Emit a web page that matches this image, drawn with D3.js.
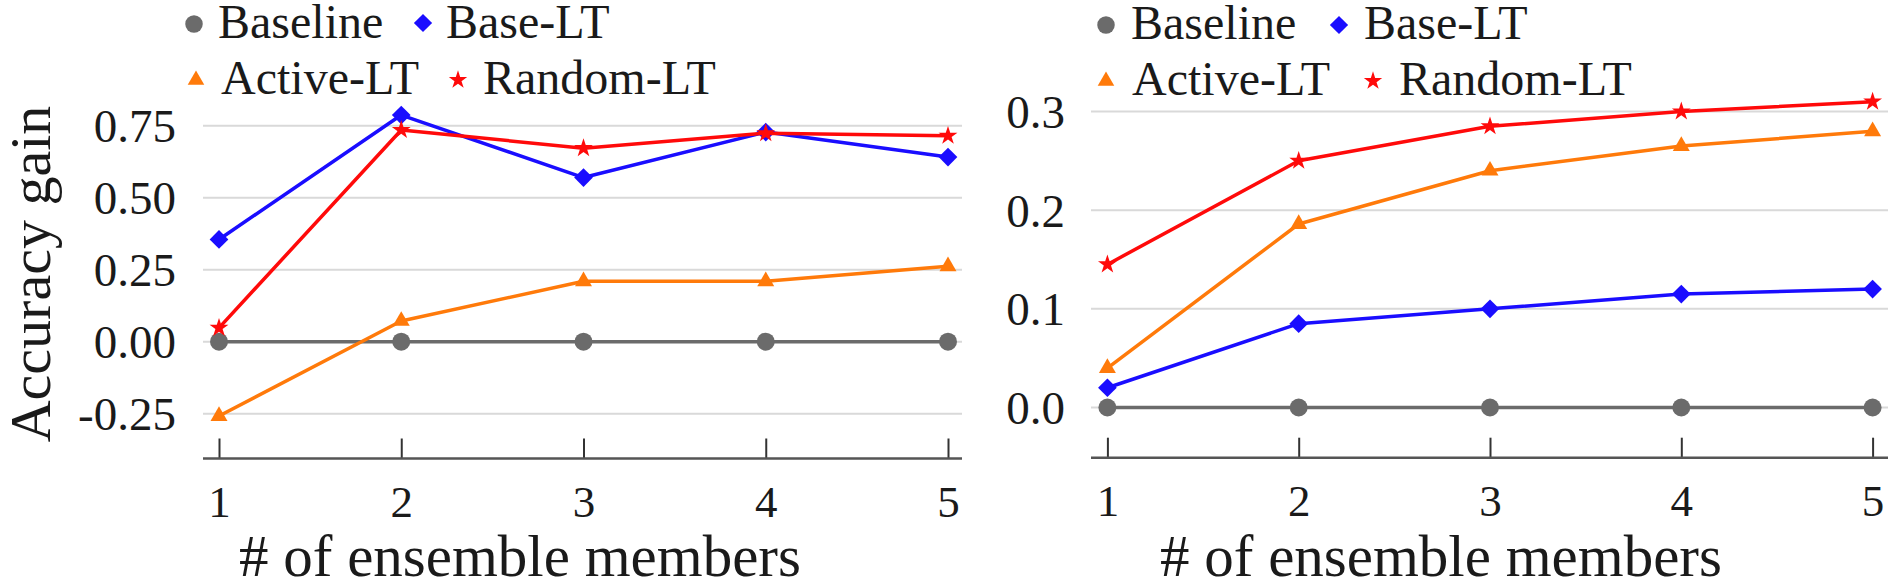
<!DOCTYPE html>
<html>
<head>
<meta charset="utf-8">
<script src="https://cdn.jsdelivr.net/npm/d3@7"></script>
</head>
<body style="margin:0;padding:0;background:#fff">
<svg id="chart" width="1892" height="588" style="display:block"></svg>
<script>
// ---- data ----
const members = [1, 2, 3, 4, 5];
const seriesNames = ["Baseline", "Base-LT", "Active-LT", "Random-LT"];

// left panel
const leftBaseline = [0, 0, 0, 0, 0];
const leftBaseLT   = [0.355, 0.787, 0.570, 0.728, 0.641];
const leftActiveLT = [-0.258, 0.072, 0.210, 0.210, 0.262];
const leftRandomLT = [0.048, 0.735, 0.672, 0.724, 0.715];
const leftYTicks   = [-0.25, 0.00, 0.25, 0.50, 0.75];

// right panel
const rightBaseline = [0, 0, 0, 0, 0];
const rightBaseLT   = [0.020, 0.085, 0.100, 0.115, 0.120];
const rightActiveLT = [0.040, 0.186, 0.240, 0.265, 0.280];
const rightRandomLT = [0.145, 0.250, 0.285, 0.300, 0.310];
const rightYTicks   = [0.0, 0.1, 0.2, 0.3];

const xTitle = "# of ensemble members";
const yTitle = "Accuracy gain";

// ---- styles ----
const TXT = "#1a1a1a";
const colors = { "Baseline": "#6b6b6b", "Base-LT": "#1a0dff", "Active-LT": "#ff7a0a", "Random-LT": "#ff0a0a" };
const symbols = {
  "Baseline": { type: d3.symbolCircle, size: 254, rot: 0 },
  "Base-LT": { type: d3.symbolSquare, size: 175, rot: 45 },
  "Active-LT": { type: d3.symbolTriangle, size: 125, rot: 0 },
  "Random-LT": { type: d3.symbolStar, size: 110, rot: 0 }
};

const svg = d3.select("#chart");

function serif(sel) {
  return sel.style("font-family", "'Times New Roman'").attr("font-family", "Times New Roman");
}

function drawPanel(cfg) {
  const g = svg.append("g");
  const x = d3.scaleLinear().domain([1, 5]).range(cfg.xRange);
  const y = d3.scaleLinear().domain(cfg.yDomain).range(cfg.yRange);

  // gridlines
  g.append("g").selectAll("line").data(cfg.yTicks).join("line")
    .attr("x1", cfg.plotX[0]).attr("x2", cfg.plotX[1])
    .attr("y1", d => y(d)).attr("y2", d => y(d))
    .attr("stroke", "#d9d9d9").attr("stroke-width", 2);

  // y axis labels
  const yAxis = d3.axisLeft(y).tickValues(cfg.yTicks).tickSize(0).tickPadding(0)
    .tickFormat(d => d3.format(cfg.yFmt)(d).replace("\u2212", "-"));
  const ya = g.append("g").attr("transform", `translate(${cfg.yLabelX},0)`).call(yAxis);
  serif(ya);
  ya.select(".domain").remove();
  serif(ya.selectAll("text").attr("font-size", 47).attr("dy", "0.34em").attr("fill", TXT));

  // x axis
  const xAxis = d3.axisBottom(x).tickValues(members).tickSizeInner(-20).tickSizeOuter(0).tickPadding(0).tickFormat(d3.format("d"));
  const xa = g.append("g").attr("transform", `translate(0,${cfg.axisY})`).call(xAxis);
  serif(xa);
  xa.select(".domain").remove();
  xa.append("line").attr("x1", cfg.plotX[0]).attr("x2", cfg.plotX[1]).attr("y1", 0).attr("y2", 0)
    .attr("stroke", "#555").attr("stroke-width", 2.5);
  xa.selectAll(".tick line").attr("stroke", "#333").attr("stroke-width", 2);
  serif(xa.selectAll("text").attr("font-size", 45).attr("y", 58.5).attr("dy", 0).attr("fill", TXT));

  // x title
  serif(g.append("text").attr("x", cfg.xTitleX).attr("y", 576).attr("text-anchor", "middle")
    .attr("font-size", 59).attr("fill", TXT).text(xTitle));

  // series
  const line = d3.line().x((d, i) => x(members[i])).y(d => y(d));
  cfg.series.forEach(s => {
    const sg = g.append("g");
    sg.append("path").datum(s.values).attr("d", line).attr("fill", "none")
      .attr("stroke", colors[s.name]).attr("stroke-width", 3.5).attr("stroke-linejoin", "round");
    const sym = symbols[s.name];
    sg.selectAll("path.m").data(s.values).join("path").attr("class", "m")
      .attr("d", d3.symbol().type(sym.type).size(sym.size))
      .attr("transform", (d, i) => `translate(${x(members[i])},${y(d)}) rotate(${sym.rot})`)
      .attr("fill", colors[s.name]);
  });

  // legend
  const lg = g.append("g");
  cfg.legend.forEach(l => {
    const sym = symbols[l.name];
    lg.append("path").attr("d", d3.symbol().type(sym.type).size(sym.size * 0.95))
      .attr("transform", `translate(${l.mx},${l.my}) rotate(${sym.rot})`)
      .attr("fill", colors[l.name]);
    serif(lg.append("text").attr("x", l.tx).attr("y", l.ty)
      .attr("font-size", 48).attr("fill", TXT).text(l.name));
  });

  return g;
}

drawPanel({
  xRange: [219, 948], plotX: [203, 962],
  yDomain: [-0.25, 0.75], yRange: [413.7, 125.7],
  yTicks: leftYTicks, yFmt: ".2f", yLabelX: 176, axisY: 458.5, xTitleX: 520,
  series: [
    { name: "Baseline", values: leftBaseline },
    { name: "Base-LT", values: leftBaseLT },
    { name: "Active-LT", values: leftActiveLT },
    { name: "Random-LT", values: leftRandomLT }
  ],
  legend: [
    { name: "Baseline", mx: 194, my: 24, tx: 218, ty: 38 },
    { name: "Base-LT", mx: 423, my: 23, tx: 446, ty: 38 },
    { name: "Active-LT", mx: 196, my: 80, tx: 221, ty: 94 },
    { name: "Random-LT", mx: 458, my: 80, tx: 483, ty: 94 }
  ]
});

drawPanel({
  xRange: [1107.4, 1872.6], plotX: [1091, 1888],
  yDomain: [0, 0.3], yRange: [407.5, 111.5],
  yTicks: rightYTicks, yFmt: ".1f", yLabelX: 1065, axisY: 457.7, xTitleX: 1441,
  series: [
    { name: "Baseline", values: rightBaseline },
    { name: "Base-LT", values: rightBaseLT },
    { name: "Active-LT", values: rightActiveLT },
    { name: "Random-LT", values: rightRandomLT }
  ],
  legend: [
    { name: "Baseline", mx: 1106, my: 25, tx: 1131, ty: 39 },
    { name: "Base-LT", mx: 1339, my: 25, tx: 1364, ty: 39 },
    { name: "Active-LT", mx: 1106, my: 81, tx: 1132, ty: 95 },
    { name: "Random-LT", mx: 1373, my: 81, tx: 1399, ty: 95 }
  ]
});

// y title (left only)
serif(svg.append("text").attr("transform", "translate(50,274) rotate(-90)")
  .attr("text-anchor", "middle").attr("font-size", 58)
  .attr("fill", TXT).text(yTitle));
</script>
</body>
</html>
